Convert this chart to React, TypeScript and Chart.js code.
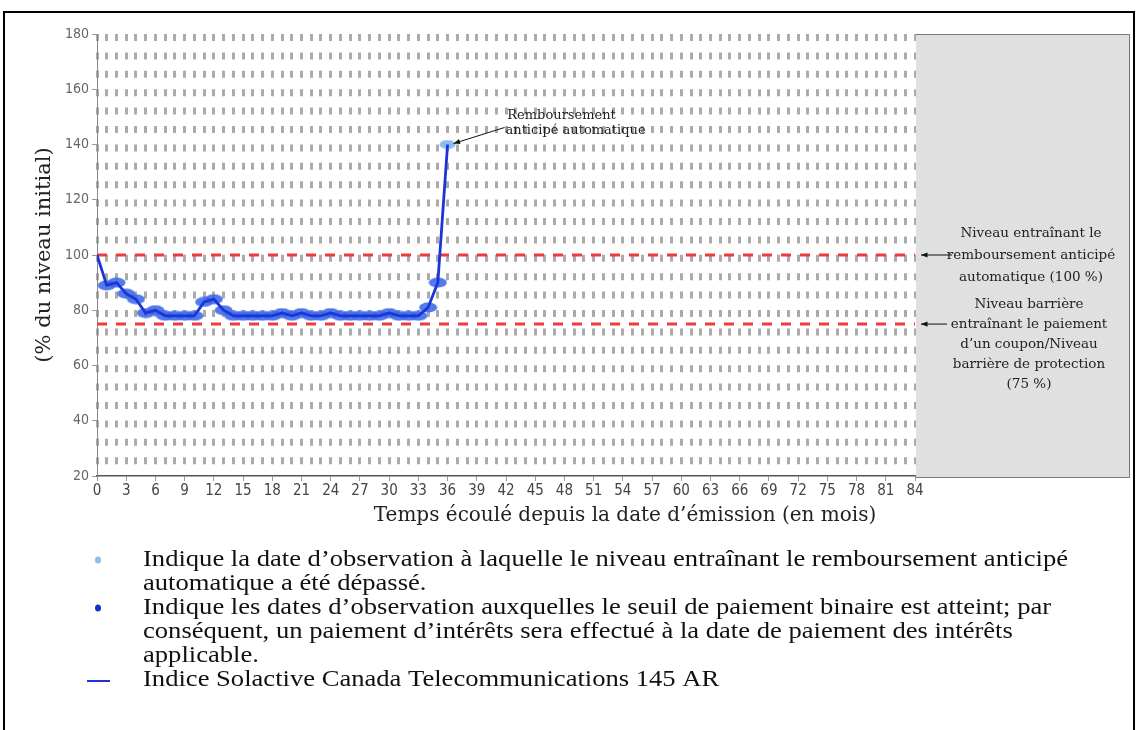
import React, { useEffect, useRef } from "react";
import { Chart, registerables } from "chart.js";

Chart.register(...registerables);

// ---- Data ----
const months = [
  0, 1, 2, 3, 4, 5, 6, 7, 8, 9, 10, 11, 12, 13, 14, 15, 16, 17, 18, 19, 20,
  21, 22, 23, 24, 25, 26, 27, 28, 29, 30, 31, 32, 33, 34, 35, 36,
];
const indexLevels = [
  100, 89, 90, 86, 84, 79, 80, 78, 78, 78, 78, 83, 84, 80, 78, 78, 78, 78, 78,
  79, 78, 79, 78, 78, 79, 78, 78, 78, 78, 78, 79, 78, 78, 78, 81, 90, 140,
];
const thresholdMonths = [0, 84];
const autocallLevels = [100, 100];
const barrierLevels = [75, 75];
const xMin = 0;
const xMax = 84;
const xLabelStep = 3;
const yMin = 20;
const yMax = 180;
const yStep = 20;

const yTitle = "(% du niveau initial)";
const xTitle = "Temps écoulé depuis la date d’émission (en mois)";
const calloutLines = ["Remboursement", "anticipé automatique"];
const autocallNote = [
  "Niveau entraînant le",
  "remboursement anticipé",
  "automatique (100 %)",
];
const barrierNote = [
  "Niveau barrière",
  "entraînant le paiement",
  "d’un coupon/Niveau",
  "barrière de protection",
  "(75 %)",
];
const legendItems = [
  {
    kind: "light",
    lines: [
      "Indique la date d’observation à laquelle le niveau entraînant le remboursement anticipé",
      "automatique a été dépassé.",
    ],
  },
  {
    kind: "dark",
    lines: [
      "Indique les dates d’observation auxquelles le seuil de paiement binaire est atteint; par",
      "conséquent, un paiement d’intérêts sera effectué à la date de paiement des intérêts",
      "applicable.",
    ],
  },
  { kind: "line", lines: ["Indice Solactive Canada Telecommunications 145 AR"] },
];

const W = 1138;
const H = 730;
const LINE_COLOR = "rgb(28, 52, 218)";
const DARK_MARK = "rgba(58, 104, 232, 0.88)";
const LIGHT_MARK = "rgb(140, 188, 242)";
const RED = "rgb(236, 60, 60)";
const SERIF = "'DejaVu Serif', serif";
const TIMES = "'Liberation Serif', 'Times New Roman', serif";
const SANS = "'DejaVu Sans Condensed', 'DejaVu Sans', sans-serif";

function makeEllipse(w: number, h: number, color: string) {
  const c = document.createElement("canvas");
  c.width = w;
  c.height = h;
  const g = c.getContext("2d")!;
  g.fillStyle = color;
  g.beginPath();
  g.ellipse(w / 2, h / 2, w / 2 - 0.5, h / 2 - 0.5, 0, 0, Math.PI * 2);
  g.fill();
  return c;
}

function arrow(ctx: CanvasRenderingContext2D, x1: number, y1: number, x2: number, y2: number) {
  ctx.save();
  ctx.strokeStyle = "#111";
  ctx.fillStyle = "#111";
  ctx.lineWidth = 1;
  ctx.beginPath();
  ctx.moveTo(x1, y1);
  ctx.lineTo(x2, y2);
  ctx.stroke();
  const a = Math.atan2(y2 - y1, x2 - x1);
  const L = 7;
  const s = 0.38;
  ctx.beginPath();
  ctx.moveTo(x2, y2);
  ctx.lineTo(x2 - L * Math.cos(a - s), y2 - L * Math.sin(a - s));
  ctx.lineTo(x2 - L * Math.cos(a + s), y2 - L * Math.sin(a + s));
  ctx.closePath();
  ctx.fill();
  ctx.restore();
}

const decorPlugin = {
  id: "decor",
  afterDraw(chart: any) {
    const ctx: CanvasRenderingContext2D = chart.ctx;
    const area = chart.chartArea;
    const xs = chart.scales.x;
    const ys = chart.scales.y;
    ctx.save();

    // shaded region beyond the last month
    ctx.fillStyle = "#e0e0e0";
    ctx.fillRect(area.right + 1, area.top, 1129 - area.right - 1, area.bottom - area.top + 1);
    ctx.strokeStyle = "#777";
    ctx.lineWidth = 1;
    ctx.beginPath();
    ctx.moveTo(area.right + 1, area.top + 0.5);
    ctx.lineTo(1129.5, area.top + 0.5);
    ctx.lineTo(1129.5, area.bottom + 1.5);
    ctx.lineTo(area.right + 1, area.bottom + 1.5);
    ctx.stroke();

    // axis titles
    ctx.fillStyle = "#222";
    ctx.textAlign = "center";
    ctx.textBaseline = "middle";
    ctx.font = `20px ${SERIF}`;
    ctx.fillText(xTitle, 625, 516);
    ctx.save();
    ctx.translate(45, 255);
    ctx.rotate(-Math.PI / 2);
    ctx.font = `21px ${SERIF}`;
    ctx.fillText(yTitle, 0, 0);
    ctx.restore();

    // callout for the autocall point
    const lastIdx = months.length - 1;
    const px = xs.getPixelForValue(months[lastIdx]);
    const py = ys.getPixelForValue(indexLevels[lastIdx]);
    ctx.font = `13px ${SERIF}`;
    ctx.fillStyle = "#222";
    ctx.fillText(calloutLines[0], px + 114, py - 29);
    ctx.fillText(calloutLines[1], px + 128, py - 14);
    arrow(ctx, px + 57, py - 17, px + 6, py - 1);

    // right-hand notes
    const yA = ys.getPixelForValue(autocallLevels[0]);
    const yB = ys.getPixelForValue(barrierLevels[0]);
    ctx.font = `13.5px ${SERIF}`;
    autocallNote.forEach((t, i) => ctx.fillText(t, 1031, yA - 22 + i * 22));
    barrierNote.forEach((t, i) => ctx.fillText(t, 1029, yB - 20 + i * 20));
    arrow(ctx, 952, yA, 921, yA);
    arrow(ctx, 947, yB, 921, yB);

    // legend below the chart
    ctx.textAlign = "left";
    ctx.font = `23px ${TIMES}`;
    const sx = 925 / ctx.measureText(legendItems[0].lines[0]).width;
    let ly = 560;
    legendItems.forEach((item) => {
      if (item.kind === "light" || item.kind === "dark") {
        ctx.fillStyle = item.kind === "light" ? LIGHT_MARK : "rgb(20, 50, 200)";
        ctx.beginPath();
        ctx.ellipse(98, ly, 3, 3.6, 0, 0, Math.PI * 2);
        ctx.fill();
      } else {
        ctx.strokeStyle = LINE_COLOR;
        ctx.lineWidth = 2;
        ctx.beginPath();
        ctx.moveTo(87, ly + 1);
        ctx.lineTo(110, ly + 1);
        ctx.stroke();
      }
      ctx.fillStyle = "#111";
      item.lines.forEach((t) => {
        ctx.save();
        ctx.translate(143, ly);
        ctx.scale(sx, 1);
        ctx.fillText(t, 0, 0);
        ctx.restore();
        ly += 24;
      });
    });

    // outer frame
    ctx.strokeStyle = "#000";
    ctx.lineWidth = 2;
    ctx.beginPath();
    ctx.moveTo(4, H);
    ctx.lineTo(4, 12);
    ctx.lineTo(1134, 12);
    ctx.lineTo(1134, H);
    ctx.stroke();

    ctx.restore();
  },
};

export default function App() {
  const ref = useRef<HTMLCanvasElement | null>(null);

  useEffect(() => {
    const canvas = ref.current;
    if (!canvas) return;
    const darkMark = makeEllipse(19, 11, DARK_MARK);
    const lightMark = makeEllipse(17, 10, LIGHT_MARK);

    const linePts = months.map((m, i) => ({ x: m, y: indexLevels[i] }));
    const markPts = linePts.slice(1);

    const chart = new Chart(canvas, {
      type: "line",
      data: {
        datasets: [
          {
            label: "Indice",
            data: linePts,
            borderColor: LINE_COLOR,
            borderWidth: 2.8,
            pointRadius: 0,
            tension: 0,
            order: 0,
          },
          {
            label: "markers",
            data: markPts,
            showLine: false,
            pointRadius: 5,
            pointStyle: (c: any) =>
              c.dataIndex === markPts.length - 1 ? lightMark : darkMark,
            order: 1,
          },
          {
            label: "autocall",
            data: thresholdMonths.map((m, i) => ({ x: m, y: autocallLevels[i] })),
            borderColor: RED,
            borderWidth: 3,
            borderDash: [10, 9],
            pointRadius: 0,
            order: 2,
          },
          {
            label: "barrier",
            data: thresholdMonths.map((m, i) => ({ x: m, y: barrierLevels[i] })),
            borderColor: RED,
            borderWidth: 3,
            borderDash: [10, 9],
            pointRadius: 0,
            order: 3,
          },
        ],
      },
      options: {
        responsive: false,
        animation: false,
        layout: { padding: { left: 37, top: 34, right: 223, bottom: H - 476 - 40 } },
        plugins: { legend: { display: false }, tooltip: { enabled: false } },
        scales: {
          x: {
            type: "linear",
            min: xMin,
            max: xMax,
            afterFit: (s: any) => {
              s.height = 40;
            },
            afterBuildTicks: (s: any) => {
              const t = [];
              for (let v = xMin; v <= xMax; v++) t.push({ value: v });
              s.ticks = t;
            },
            ticks: {
              autoSkip: false,
              maxRotation: 0,
              padding: 1,
              color: "#444",
              font: { family: SANS, size: 15 },
              callback: (v: any) => (Number(v) % xLabelStep === 0 ? String(v) : ""),
            },
            grid: {
              color: "rgba(150,150,150,0.8)",
              lineWidth: 3,
              tickLength: 5,
              tickWidth: 1,
              tickBorderDash: [],
              tickColor: (c: any) =>
                c.tick && c.tick.value % xLabelStep === 0 ? "#999" : "rgba(0,0,0,0)",
            },
            border: { display: true, color: "#555", width: 1.5, dash: [7, 11.4] },
          },
          y: {
            min: yMin,
            max: yMax,
            afterFit: (s: any) => {
              s.width = 60;
            },
            ticks: {
              stepSize: yStep,
              color: "#666",
              padding: 3,
              font: { family: SANS, size: 14 },
            },
            grid: { drawOnChartArea: false, tickLength: 5, color: "#999" },
            border: { display: true, color: "#888", width: 1 },
          },
        },
      },
      plugins: [decorPlugin],
    });
    return () => chart.destroy();
  }, []);

  return (
    <div style={{ position: "fixed", left: 0, top: 0, width: W, height: H, background: "#fff" }}>
      <canvas ref={ref} width={W} height={H} style={{ width: W, height: H, display: "block" }} />
    </div>
  );
}
